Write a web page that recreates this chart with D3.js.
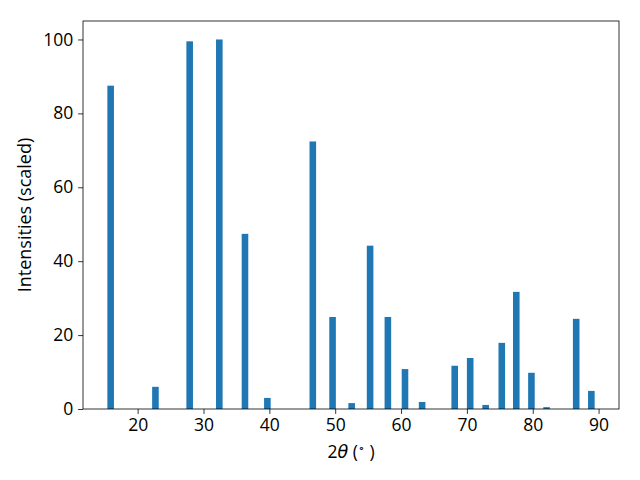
<!DOCTYPE html>
<html>
<head>
<meta charset="utf-8">
<script src="https://cdn.jsdelivr.net/npm/d3@7"></script>
<style>
  body { margin: 0; background: #fff; }
  text { font-family: "Open Sans", "Noto Sans", sans-serif; }
</style>
</head>
<body>
<div id="chart"></div>
<script>
// XRD peak positions (2θ) and scaled intensities
const twoTheta = [15.9, 22.7, 27.9, 32.4, 36.3, 39.7, 46.6, 49.6, 52.5, 55.3, 58.0,
                  60.6, 63.2, 68.15, 70.5, 72.85, 75.3, 77.5, 79.8, 82.1, 86.6, 88.9];
const intensity = [87.5, 6.0, 99.5, 100, 47.4, 3.0, 72.4, 24.9, 1.6, 44.2, 24.9,
                   10.8, 1.9, 11.7, 13.8, 1.1, 17.9, 31.7, 9.8, 0.5, 24.4, 4.9];
const xTicks = [20, 30, 40, 50, 60, 70, 80, 90];
const yTicks = [0, 20, 40, 60, 80, 100];

const width = 640, height = 480;
const margin = { top: 21, right: 21, bottom: 71, left: 83 };
const barWidth = 1;
const color = '#1f77b4';
const fontStack = '"Open Sans", "Noto Sans", sans-serif';

const svg = d3.select('#chart').append('svg')
  .attr('width', width)
  .attr('height', height);

const x = d3.scaleLinear()
  .domain([11.7, 93.1])
  .range([margin.left, width - margin.right]);

const y = d3.scaleLinear()
  .domain([0, 105])
  .range([height - margin.bottom, margin.top]);

// Bars
svg.append('g')
  .selectAll('rect')
  .data(twoTheta)
  .join('rect')
  .attr('x', (d) => x(d - barWidth / 2))
  .attr('width', (d) => x(d + barWidth / 2) - x(d - barWidth / 2))
  .attr('y', (d, i) => y(intensity[i]))
  .attr('height', (d, i) => y(0) - y(intensity[i]))
  .attr('fill', color);

// Axes
const xAxis = svg.append('g')
  .attr('transform', `translate(0,${height - margin.bottom})`)
  .call(d3.axisBottom(x).tickValues(xTicks).tickSize(4.9).tickPadding(4.9));

const yAxis = svg.append('g')
  .attr('transform', `translate(${margin.left},0)`)
  .call(d3.axisLeft(y).tickValues(yTicks).tickSize(4.9).tickPadding(4.9));

[xAxis, yAxis].forEach((g) => {
  g.select('.domain').remove();
  g.selectAll('text').attr('font-size', '17.5px').attr('fill', '#000')
    .style('font-family', fontStack);
  g.selectAll('line').attr('stroke', '#000').attr('stroke-width', 0.8);
});

// Frame
svg.append('rect')
  .attr('x', margin.left)
  .attr('y', margin.top)
  .attr('width', width - margin.left - margin.right)
  .attr('height', height - margin.top - margin.bottom)
  .attr('fill', 'none')
  .attr('stroke', '#000')
  .attr('stroke-width', 0.8);

// Axis labels
const xl = svg.append('text')
  .attr('x', (margin.left + width - margin.right) / 2)
  .attr('y', 458)
  .attr('text-anchor', 'middle')
  .attr('font-size', '17.5px');
xl.append('tspan').text('2');
xl.append('tspan').attr('font-style', 'italic').style('font-family', '"DejaVu Sans", sans-serif').text('θ');
xl.append('tspan').text(' (');
xl.append('tspan').attr('font-size', '11px').attr('dy', -6).text('∘');
xl.append('tspan').attr('dy', 6).text(' )');

svg.append('text')
  .attr('transform', `translate(31,${(margin.top + height - margin.bottom) / 2}) rotate(-90)`)
  .attr('text-anchor', 'middle')
  .attr('font-size', '18px')
  .text('Intensities (scaled)');
</script>
</body>
</html>
